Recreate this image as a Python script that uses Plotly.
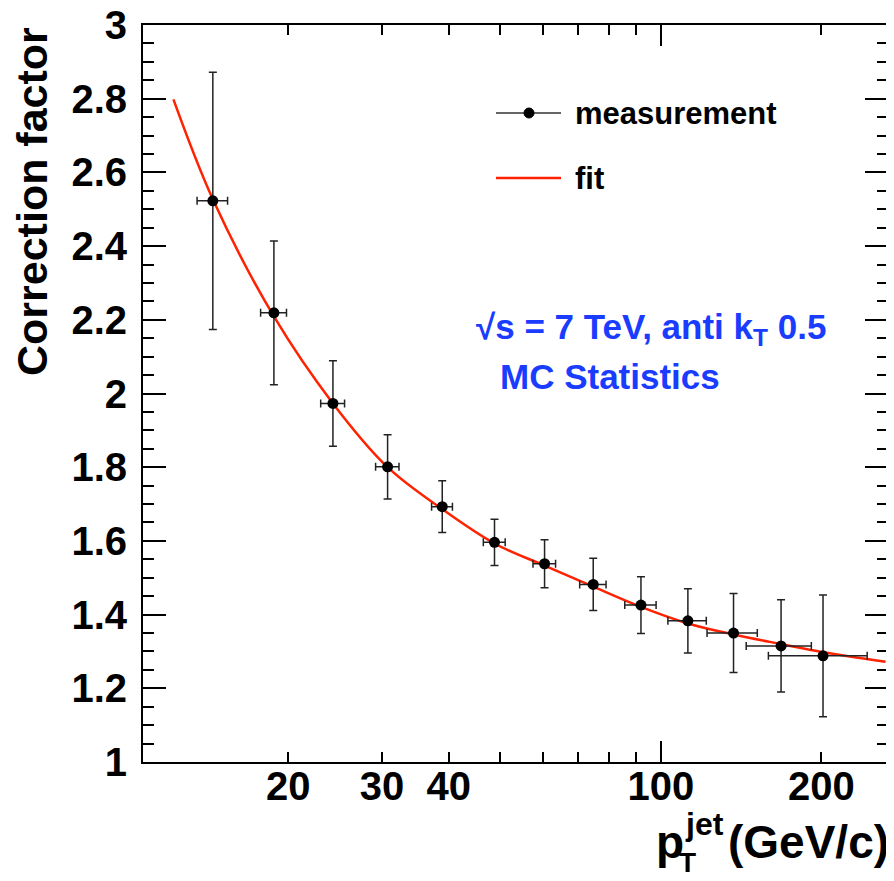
import math
import plotly.graph_objects as go

# ---- data ----
pt = [14.44, 18.80, 24.26, 30.72, 38.90, 48.75, 60.52, 74.68, 91.78, 112.4, 136.9, 168.1, 201.5]
pt_err = [0.95, 1.05, 1.25, 1.55, 1.75, 2.3, 2.95, 4.25, 6.2, 9.3, 14.8, 23.5, 42.35]
corr = [2.523, 2.219, 1.973, 1.801, 1.693, 1.596, 1.538, 1.482, 1.426, 1.383, 1.350, 1.315, 1.288]
corr_err = [0.349, 0.195, 0.116, 0.087, 0.070, 0.063, 0.065, 0.071, 0.077, 0.087, 0.107, 0.125, 0.165]

fit_pt = [12.18, 14.44, 18.80, 24.26, 30.72, 38.90, 48.75, 60.52, 74.68, 91.78, 112.4, 136.9, 168.1, 201.5, 264.0]
fit_val = [2.798, 2.527, 2.209, 1.973, 1.800, 1.686, 1.593, 1.533, 1.476, 1.421, 1.376, 1.346, 1.320, 1.298, 1.272]

x_tick_vals = [20, 30, 40, 100, 200]
x_tick_text = ["20", "30", "40", "100", "200"]
x_minor_vals = [50, 60, 70, 80, 90]

FONT = "Liberation Sans, Arial, Helvetica, sans-serif"
RED = "#ff2200"
BLUE = "#1a3cff"

# the page body has an 8px margin, so the figure is placed 8px right/down
OFF = 8
W, H = 894 - OFF, 881 - OFF
PL, PR, PT, PB = 143, 888, 25, 762          # plot area in page pixels
L, T = PL - OFF, PT - OFF
R = W - (PR - OFF)
B = H - (PB - OFF)
PW, PH = PR - PL, PB - PT


def px(xp):
    return (xp - PL) / PW


def py(yp):
    return (PB - yp) / PH


fig = go.Figure()

fig.add_trace(go.Scatter(
    x=fit_pt, y=fit_val, mode="lines",
    line=dict(color=RED, width=2.5, shape="spline", smoothing=1.0),
    hoverinfo="skip", showlegend=False,
))

fig.add_trace(go.Scatter(
    x=pt, y=corr, mode="markers",
    marker=dict(color="black", size=11, symbol="circle"),
    error_y=dict(type="data", array=corr_err, color="#222222", thickness=1.5, width=4),
    error_x=dict(type="data", array=pt_err, color="#222222", thickness=1.5, width=4),
    showlegend=False,
))

# invisible trace on the overlay axis that carries the long tick at 100
fig.add_trace(go.Scatter(
    x=[pt[0]], y=[corr[0]], xaxis="x2", mode="markers",
    marker=dict(opacity=0), hoverinfo="skip", showlegend=False,
))

xrange = [math.log10(10.68), math.log10(266.8)]

fig.update_layout(
    width=W, height=H,
    margin=dict(l=L, r=R, t=T, b=B, autoexpand=False),
    paper_bgcolor="white", plot_bgcolor="white",
    font=dict(family=FONT, color="black"),
    xaxis=dict(
        type="log", range=xrange, automargin=False,
        tickmode="array", tickvals=x_tick_vals, ticktext=x_tick_text,
        ticks="inside", ticklen=10, tickwidth=1.5, tickcolor="black",
        minor=dict(tickmode="array", tickvals=x_minor_vals, ticks="inside",
                   ticklen=10, tickwidth=1.5, tickcolor="black", showgrid=False),
        showline=True, linecolor="black", linewidth=2, mirror="ticks",
        showgrid=False, zeroline=False,
        tickfont=dict(family=FONT, size=40, weight="bold", color="black"),
        ticklabelstandoff=-12, ticklabeloverflow="allow",
    ),
    xaxis2=dict(
        type="log", range=xrange, overlaying="x", anchor="y", side="bottom",
        automargin=False,
        tickmode="array", tickvals=[100], ticks="inside", ticklen=21,
        tickwidth=1.5, tickcolor="black", showticklabels=False,
        showline=True, linecolor="black", linewidth=2, mirror="ticks",
        showgrid=False, zeroline=False,
    ),
    yaxis=dict(
        range=[1, 3], tickmode="linear", tick0=1, dtick=0.2, automargin=False,
        ticks="inside", ticklen=23, tickwidth=1.5, tickcolor="black",
        minor=dict(dtick=0.05, ticks="inside", ticklen=11, tickwidth=1.5,
                   tickcolor="black", showgrid=False),
        showline=True, linecolor="black", linewidth=2, mirror="ticks",
        showgrid=False, zeroline=False,
        tickfont=dict(family=FONT, size=40, weight="bold", color="black"),
        ticklabelstandoff=6, ticklabeloverflow="allow",
    ),
)

ann = []
# y-axis title
ann.append(dict(text="Correction factor", textangle=-90, xref="paper", yref="paper",
                x=px(32), y=py(202), xanchor="center", yanchor="middle", showarrow=False,
                font=dict(family=FONT, size=43, weight="bold", color="black")))
# x-axis title pieces
ann.append(dict(text="(GeV/c)", xref="paper", yref="paper", x=px(891), y=py(842),
                xanchor="right", yanchor="middle", showarrow=False,
                font=dict(family=FONT, size=46, weight="bold", color="black")))
ann.append(dict(text="p", xref="paper", yref="paper", x=px(686), y=py(842),
                xanchor="right", yanchor="middle", showarrow=False,
                font=dict(family=FONT, size=46, weight="bold", color="black")))
ann.append(dict(text="jet", xref="paper", yref="paper", x=px(683), y=py(824),
                xanchor="left", yanchor="middle", showarrow=False,
                font=dict(family=FONT, size=32, weight="bold", color="black")))
ann.append(dict(text="T", xref="paper", yref="paper", x=px(677), y=py(880),
                xanchor="left", yanchor="bottom", showarrow=False,
                font=dict(family=FONT, size=28, weight="bold", color="black")))
# legend text
ann.append(dict(text="measurement", xref="paper", yref="paper", x=px(573), y=py(113),
                xanchor="left", yanchor="middle", showarrow=False,
                font=dict(family=FONT, size=31, weight="bold", color="black")))
ann.append(dict(text="fit", xref="paper", yref="paper", x=px(573), y=py(178),
                xanchor="left", yanchor="middle", showarrow=False,
                font=dict(family=FONT, size=31, weight="bold", color="black")))
# blue labels
ann.append(dict(text="√s = 7 TeV, anti k<sub>T</sub> 0.5", xref="paper", yref="paper",
                x=px(474), y=py(329), xanchor="left", yanchor="middle", showarrow=False,
                font=dict(family=FONT, size=35, weight="bold", color=BLUE)))
ann.append(dict(text="MC Statistics", xref="paper", yref="paper",
                x=px(498), y=py(376), xanchor="left", yanchor="middle", showarrow=False,
                font=dict(family=FONT, size=35, weight="bold", color=BLUE)))
fig.update_layout(annotations=ann)

shapes = [
    dict(type="line", xref="paper", yref="paper", x0=px(496), x1=px(561), y0=py(113), y1=py(113),
         line=dict(color="#333333", width=1.5)),
    dict(type="circle", xref="paper", yref="paper", x0=px(524), x1=px(534), y0=py(118), y1=py(108),
         line=dict(color="black", width=1), fillcolor="black"),
    dict(type="line", xref="paper", yref="paper", x0=px(496), x1=px(561), y0=py(178), y1=py(178),
         line=dict(color=RED, width=2.5)),
]
fig.update_layout(shapes=shapes)

fig.write_html("out.html")
